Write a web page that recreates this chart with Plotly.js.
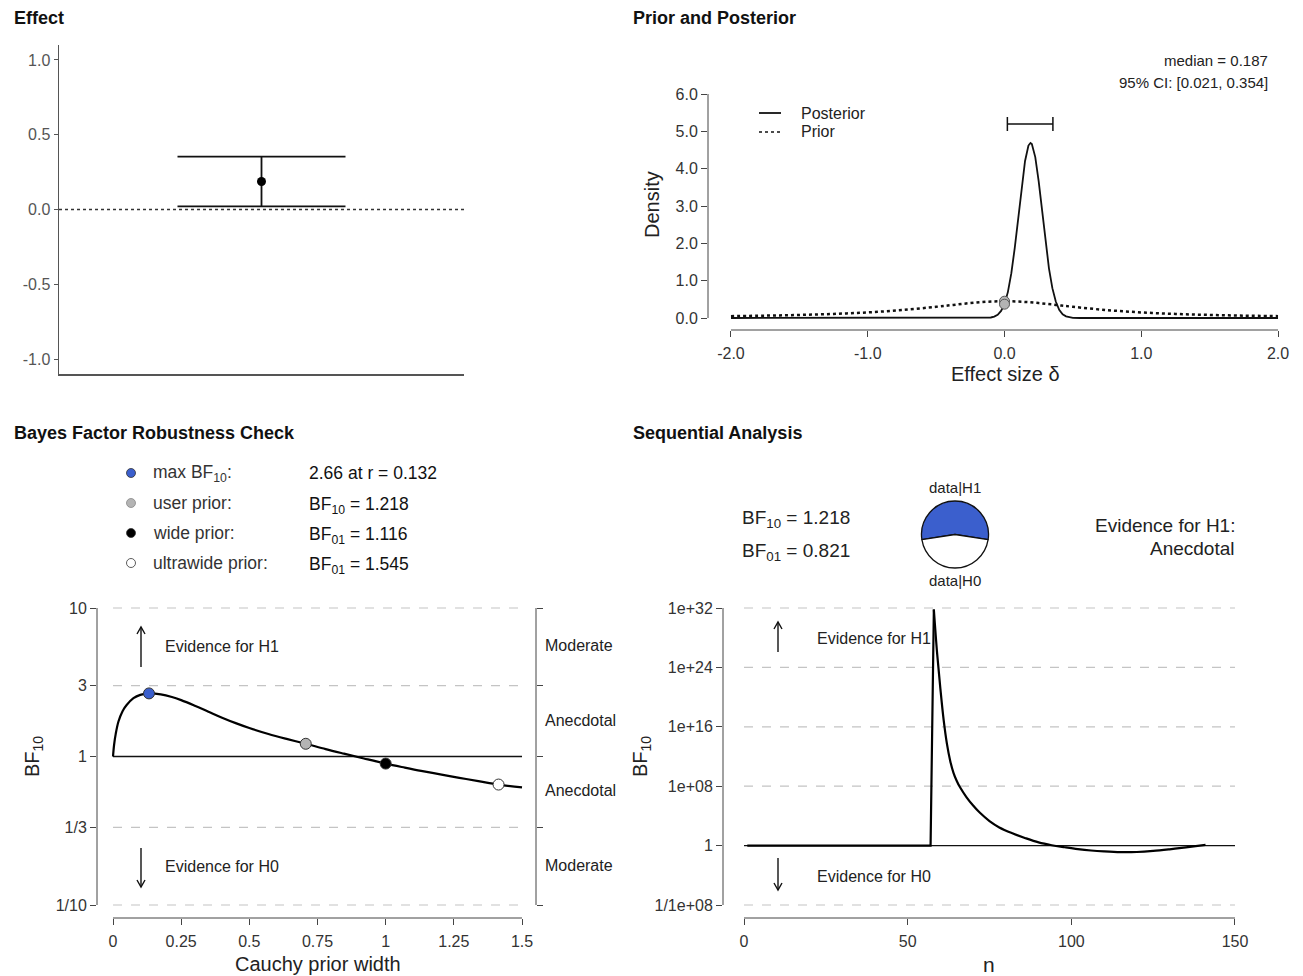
<!DOCTYPE html>
<html><head><meta charset="utf-8">
<script src="https://cdn.plot.ly/plotly-3.0.1.min.js"></script>
<style>html,body{margin:0;padding:0;background:#fff;}#chart{width:1303px;height:976px;}</style>
</head><body><div id="chart"></div>
<script>
// ---------------- data ----------------
const effectMedian = 0.187, effectLower = 0.021, effectUpper = 0.354;

const densityTicks = [0, 1, 2, 3, 4, 5, 6];
const densityTickText = ['0.0', '1.0', '2.0', '3.0', '4.0', '5.0', '6.0'];
const deltaTicks = [-2, -1, 0, 1, 2];
const deltaTickText = ['-2.0', '-1.0', '0.0', '1.0', '2.0'];
const effectTicks = [-1, -0.5, 0, 0.5, 1];
const effectTickText = ['-1.0', '-0.5', '0.0', '0.5', '1.0'];

const priorX = [-2, -1.75, -1.5, -1.25, -1, -0.75, -0.5, -0.375, -0.25, -0.125, 0, 0.125, 0.25, 0.375, 0.5, 0.75, 1, 1.25, 1.5, 1.75, 2];
const priorY = [0.050, 0.063, 0.082, 0.109, 0.150, 0.212, 0.300, 0.351, 0.400, 0.436, 0.450, 0.436, 0.400, 0.351, 0.300, 0.212, 0.150, 0.109, 0.082, 0.063, 0.050];
const postX = [-2, -0.15, -0.1, -0.075, -0.05, -0.025, 0, 0.025, 0.05, 0.075, 0.1, 0.125, 0.15, 0.175, 0.19, 0.2, 0.225, 0.25, 0.275, 0.3, 0.325, 0.35, 0.375, 0.4, 0.425, 0.45, 0.5, 0.55, 2];
const postY = [0, 0, 0.014, 0.036, 0.087, 0.19, 0.37, 0.70, 1.20, 1.88, 2.68, 3.50, 4.20, 4.62, 4.69, 4.66, 4.31, 3.66, 2.85, 2.03, 1.33, 0.80, 0.44, 0.22, 0.10, 0.044, 0.006, 0, 0];
const priorAt0 = 0.45, postAt0 = 0.37;

const rTicks = [0, 0.25, 0.5, 0.75, 1, 1.25, 1.5];
const rTickText = ['0', '0.25', '0.5', '0.75', '1', '1.25', '1.5'];
const bfTicks = [0.1, 1 / 3, 1, 3, 10];
const bfTickText = ['1/10', '1/3', '1', '3', '10'];
const rVals = [0, 0.004, 0.01, 0.02, 0.035, 0.05, 0.075, 0.1, 0.132, 0.175, 0.216, 0.25, 0.3, 0.35, 0.4, 0.45, 0.5, 0.57, 0.64, 0.707, 0.78, 0.847, 0.92, 1.0, 1.07, 1.13, 1.2, 1.27, 1.34, 1.414, 1.5];
const bfRobust = [1, 1.20, 1.42, 1.72, 2.02, 2.22, 2.47, 2.60, 2.66, 2.621, 2.518, 2.398, 2.199, 2.004, 1.827, 1.678, 1.555, 1.418, 1.309, 1.218, 1.121, 1.045, 0.970, 0.896, 0.842, 0.800, 0.758, 0.718, 0.683, 0.647, 0.620];
const priorPointR = [0.132, 0.707, 1.0, 1.414];
const priorPointBF = [2.66, 1.218, 1 / 1.116, 1 / 1.545];
const priorPointColor = ['#3b5fcd', '#b4b4b4', '#000000', '#ffffff'];

const nTicks = [0, 50, 100, 150];
const seqTicks = [1e-8, 1, 1e8, 1e16, 1e24, 1e32];
const seqTickText = ['1/1e+08', '1', '1e+08', '1e+16', '1e+24', '1e+32'];
// flat stretch and jump
const seqNRise = [1, 10, 20, 30, 40, 50, 57, 58];
const seqBFRise = [1, 1, 1, 1, 1, 1, 1, 6.3e31];
// decay after the jump
const seqNDecay = [58, 59, 60, 61, 62, 63, 64, 65, 66, 68, 70, 72, 75, 78, 82, 86, 90, 94, 98, 102, 106, 110, 115, 120, 125, 130, 135, 141];
const seqBFDecay = [6.3e31, 7.9e25, 1.26e21, 7.9e16, 5.0e13, 2.5e11, 6.3e9, 5.0e8, 7.1e7, 3.2e6, 2.5e5, 2.8e4, 2.0e3, 282, 45.7, 10, 2.69, 1.12, 0.60, 0.34, 0.22, 0.166, 0.132, 0.138, 0.19, 0.316, 0.575, 1.218];
const bf10 = 1.218, bf01 = 0.821;

// ---------------- helpers ----------------
const W = 1303, H = 976;
const px = x => x / W;
const py = y => 1 - y / H;
const FONT = 'Liberation Sans, Arial, Helvetica, sans-serif';
const BLUE = '#3b5fcd';

function txt(x, y, text, size, opt) {
  opt = opt || {};
  return Object.assign({
    xref: 'paper', yref: 'paper', x: px(x), y: py(y), text: text, showarrow: false,
    xanchor: 'left', yanchor: 'middle',
    font: {family: FONT, size: size, color: opt.color || '#222'}
  }, opt.extra || {});
}
function arrowShapes(x, yHead, yTail) {
  const dir = yTail > yHead ? 1 : -1;
  return [
    {type: 'line', xref: 'paper', yref: 'paper', x0: px(x), x1: px(x), y0: py(yTail), y1: py(yHead),
      line: {color: '#111', width: 1.4}},
    {type: 'path', xref: 'paper', yref: 'paper',
      path: `M ${px(x - 4)},${py(yHead + dir * 7)} L ${px(x)},${py(yHead)} L ${px(x + 4)},${py(yHead + dir * 7)}`,
      line: {color: '#111', width: 1.4}}
  ];
}

// ---------------- traces ----------------
const traces = [];
// Effect panel
traces.push({x: [0, 1], y: [0, 0], xaxis: 'x', yaxis: 'y', mode: 'lines',
  line: {color: '#333', width: 1.3, dash: 'dot'}, hoverinfo: 'skip'});
traces.push({x: [0.5], y: [effectMedian], xaxis: 'x', yaxis: 'y', mode: 'markers',
  marker: {color: '#000', size: 9},
  error_y: {type: 'data', symmetric: false, array: [effectUpper - effectMedian], arrayminus: [effectMedian - effectLower],
    width: 84, thickness: 1.8, color: '#111'}});

// Prior & posterior
traces.push({x: priorX, y: priorY, xaxis: 'x2', yaxis: 'y2', mode: 'lines',
  line: {color: '#111', width: 2.5, dash: 'dot', shape: 'spline'}, hoverinfo: 'skip'});
traces.push({x: postX, y: postY, xaxis: 'x2', yaxis: 'y2', mode: 'lines',
  line: {color: '#111', width: 1.8}, hoverinfo: 'skip'});
traces.push({x: [0, 0], y: [priorAt0, postAt0], xaxis: 'x2', yaxis: 'y2', mode: 'markers',
  marker: {color: '#b4b4b4', size: 10, line: {color: '#555', width: 1}}});
traces.push({x: [effectMedian], y: [5.2], xaxis: 'x2', yaxis: 'y2', mode: 'markers',
  marker: {opacity: 0, size: 1}, hoverinfo: 'skip',
  error_x: {type: 'data', symmetric: false, array: [effectUpper - effectMedian], arrayminus: [effectMedian - effectLower],
    width: 7, thickness: 1.5, color: '#111'}});

// Robustness
const gx3 = [], gy3 = [];
[10, 3, 1 / 3, 0.1].forEach(v => { gx3.push(0, 1.5, null); gy3.push(v, v, null); });
traces.push({x: gx3, y: gy3, xaxis: 'x3', yaxis: 'y3', mode: 'lines',
  line: {color: '#c4c4c4', width: 1.2, dash: 'dash'}, hoverinfo: 'skip'});
traces.push({x: [0, 1.5], y: [1, 1], xaxis: 'x3', yaxis: 'y3', mode: 'lines',
  line: {color: '#111', width: 1.3}, hoverinfo: 'skip'});
traces.push({x: rVals, y: bfRobust, xaxis: 'x3', yaxis: 'y3', mode: 'lines',
  line: {color: '#000', width: 2.2, shape: 'spline', smoothing: 1}, hoverinfo: 'skip'});
traces.push({x: priorPointR, y: priorPointBF, xaxis: 'x3', yaxis: 'y3', mode: 'markers',
  marker: {color: priorPointColor, size: 11, line: {color: '#333', width: 1}}});
traces.push({x: [0.75], y: [1], xaxis: 'x3', yaxis: 'y5', mode: 'markers',
  marker: {opacity: 0, size: 1}, hoverinfo: 'skip'});

// Sequential
const gx4 = [], gy4 = [];
[1e32, 1e24, 1e16, 1e8, 1e-8].forEach(v => { gx4.push(0, 150, null); gy4.push(v, v, null); });
traces.push({x: gx4, y: gy4, xaxis: 'x4', yaxis: 'y4', mode: 'lines',
  line: {color: '#c4c4c4', width: 1.2, dash: 'dash'}, hoverinfo: 'skip'});
traces.push({x: [0, 150], y: [1, 1], xaxis: 'x4', yaxis: 'y4', mode: 'lines',
  line: {color: '#111', width: 1.3}, hoverinfo: 'skip'});
traces.push({x: seqNRise, y: seqBFRise, xaxis: 'x4', yaxis: 'y4', mode: 'lines',
  line: {color: '#000', width: 2.2}, hoverinfo: 'skip'});
traces.push({x: seqNDecay, y: seqBFDecay, xaxis: 'x4', yaxis: 'y4', mode: 'lines',
  line: {color: '#000', width: 2.2, shape: 'spline', smoothing: 1}, hoverinfo: 'skip'});

// Pie
traces.push({type: 'pie', values: [bf10, 1], labels: ['data|H1', 'data|H0'], sort: false,
  direction: 'clockwise', rotation: -(bf10 / (bf10 + 1)) * 180,
  marker: {colors: [BLUE, '#ffffff'], line: {color: '#111', width: 1.3}},
  textinfo: 'none', hoverinfo: 'skip', showlegend: false,
  domain: {x: [px(921), px(989)], y: [py(568), py(501)]}});

// ---------------- layout ----------------
const base = {showgrid: false, zeroline: false, fixedrange: true, showline: false,
  ticks: 'outside', ticklen: 6, tickwidth: 1, tickcolor: '#444',
  tickfont: {family: FONT, size: 16, color: '#333'}};

const layout = {
  width: W, height: H, autosize: false,
  margin: {l: 0, r: 0, t: 0, b: 0, pad: 0},
  paper_bgcolor: '#fff', plot_bgcolor: 'rgba(0,0,0,0)',
  showlegend: false, font: {family: FONT},
  xaxis: Object.assign({}, base, {domain: [px(59), px(464)], range: [0, 1], anchor: 'y',
    showticklabels: false, ticks: '', showline: true, linecolor: '#555', linewidth: 1.5}),
  yaxis: Object.assign({}, base, {domain: [py(374), py(45)], range: [-1.1, 1.1], anchor: 'x',
    tickvals: effectTicks, ticktext: effectTickText, ticklen: 4, tickcolor: '#555',
    showline: true, linecolor: '#555', linewidth: 1.5,
    tickfont: {family: FONT, size: 16, color: '#555'}}),
  xaxis2: Object.assign({}, base, {domain: [px(708), px(1301)], range: [-2.168, 2.168], anchor: 'y2',
    tickvals: deltaTicks, ticktext: deltaTickText, ticklabelstandoff: 3}),
  yaxis2: Object.assign({}, base, {domain: [py(330), py(88)], range: [-0.3214, 6.161], anchor: 'x2',
    tickvals: densityTicks, ticktext: densityTickText}),
  xaxis3: Object.assign({}, base, {domain: [px(97), px(536)], range: [-0.0587, 1.5513], anchor: 'y3',
    tickvals: rTicks, ticktext: rTickText, ticklabelstandoff: 3}),
  yaxis3: Object.assign({}, base, {domain: [py(918), py(600)], type: 'log', range: [-1.0875, 1.0539], anchor: 'x3',
    tickvals: bfTicks, ticktext: bfTickText}),
  yaxis5: Object.assign({}, base, {domain: [py(918), py(600)], type: 'log', range: [-1.0875, 1.0539], anchor: 'x3',
    overlaying: 'y3', side: 'right', tickvals: bfTicks, showticklabels: false}),
  xaxis4: Object.assign({}, base, {domain: [px(723), px(1240)], range: [-6.416, 151.53], anchor: 'y4',
    tickvals: nTicks, ticktext: nTicks.map(String), ticklabelstandoff: 3}),
  yaxis4: Object.assign({}, base, {domain: [py(918), py(600)], type: 'log', range: [-9.751, 33.077], anchor: 'x4',
    tickvals: seqTicks, ticktext: seqTickText}),
  shapes: [
    // axis lines (R style, spanning ticks only)
    {type: 'line', xref: 'x2 domain', x0: 0, x1: 0, yref: 'y2', y0: 0, y1: 6, line: {color: '#444', width: 1}},
    {type: 'line', xref: 'x2', x0: -2, x1: 2, yref: 'y2 domain', y0: 0, y1: 0, line: {color: '#444', width: 1}},
    {type: 'line', xref: 'x3 domain', x0: 0, x1: 0, yref: 'y3', y0: 0.1, y1: 10, line: {color: '#444', width: 1}},
    {type: 'line', xref: 'x3 domain', x0: 1, x1: 1, yref: 'y3', y0: 0.1, y1: 10, line: {color: '#444', width: 1}},
    {type: 'line', xref: 'x3', x0: 0, x1: 1.5, yref: 'y3 domain', y0: 0, y1: 0, line: {color: '#444', width: 1}},
    {type: 'line', xref: 'x4 domain', x0: 0, x1: 0, yref: 'y4', y0: 1e-8, y1: 1e32, line: {color: '#444', width: 1}},
    {type: 'line', xref: 'x4', x0: 0, x1: 150, yref: 'y4 domain', y0: 0, y1: 0, line: {color: '#444', width: 1}},
    // panel 2 legend keys
    {type: 'line', xref: 'paper', yref: 'paper', x0: px(759), x1: px(781), y0: py(113), y1: py(113), line: {color: '#111', width: 1.8}},
    {type: 'line', xref: 'paper', yref: 'paper', x0: px(759), x1: px(781), y0: py(132), y1: py(132), line: {color: '#111', width: 1.6, dash: 'dot'}},
  ].concat(arrowShapes(141, 627, 667), arrowShapes(141, 887, 848),
           arrowShapes(778, 622, 652), arrowShapes(778, 890, 858)),
  annotations: [
    txt(12, 18, '<b>Effect</b>', 18, {color: '#111'}),
    txt(631, 18, '<b>Prior and Posterior</b>', 18, {color: '#111'}),
    txt(12, 433, '<b>Bayes Factor Robustness Check</b>', 18, {color: '#111'}),
    txt(631, 433, '<b>Sequential Analysis</b>', 18, {color: '#111'}),
    // panel 2
    txt(1270, 60, 'median = 0.187', 15, {extra: {xanchor: 'right'}}),
    txt(1270, 83, '95% CI: [0.021, 0.354]', 15, {extra: {xanchor: 'right'}}),
    txt(799, 113, 'Posterior', 16),
    txt(799, 132, 'Prior', 16),
    txt(652, 205, 'Density', 20, {extra: {xanchor: 'center', textangle: -90}}),
    txt(1005, 374, 'Effect size δ', 20, {extra: {xanchor: 'center'}}),
    // panel 3 legend
    txt(151, 473, 'max BF<sub>10</sub>:', 17.5, {color: '#333'}),
    txt(151, 503, 'user prior:', 17.5, {color: '#333'}),
    txt(151, 533, 'wide prior:', 17.5, {color: '#333'}),
    txt(151, 563, 'ultrawide prior:', 17.5, {color: '#333'}),
    txt(307, 473, '2.66 at r = 0.132', 17.5, {color: '#111'}),
    txt(307, 505, 'BF<sub>10</sub> = 1.218', 17.5, {color: '#111'}),
    txt(307, 535, 'BF<sub>01</sub> = 1.116', 17.5, {color: '#111'}),
    txt(307, 565, 'BF<sub>01</sub> = 1.545', 17.5, {color: '#111'}),
    // panel 3 plot
    txt(163, 646, 'Evidence for H1', 16),
    txt(163, 866, 'Evidence for H0', 16),
    txt(543, 645, 'Moderate', 16),
    txt(543, 720, 'Anecdotal', 16),
    txt(543, 790, 'Anecdotal', 16),
    txt(543, 865, 'Moderate', 16),
    txt(33, 757, 'BF<sub>10</sub>', 20, {extra: {xanchor: 'center', textangle: -90}}),
    txt(318, 964, 'Cauchy prior width', 20, {extra: {xanchor: 'center'}}),
    // panel 4 header
    txt(740, 519, 'BF<sub>10</sub> = 1.218', 19),
    txt(740, 552, 'BF<sub>01</sub> = 0.821', 19),
    txt(955, 487, 'data|H1', 15, {extra: {xanchor: 'center'}}),
    txt(955, 580, 'data|H0', 15, {extra: {xanchor: 'center'}}),
    txt(1237, 525, 'Evidence for H1:', 19, {extra: {xanchor: 'right'}}),
    txt(1237, 548, 'Anecdotal', 19, {extra: {xanchor: 'right'}}),
    // panel 4 plot
    txt(815, 638, 'Evidence for H1', 16),
    txt(815, 876, 'Evidence for H0', 16),
    txt(641, 757, 'BF<sub>10</sub>', 20, {extra: {xanchor: 'center', textangle: -90}}),
    txt(989, 964, 'n', 21, {extra: {xanchor: 'center'}}),
  ]
};

// legend dots (panel 3)
priorPointColor.forEach((c, i) => {
  const cy = 473 + i * 30, r = 4.5;
  layout.shapes.push({type: 'circle', xref: 'paper', yref: 'paper',
    x0: px(131 - r), x1: px(131 + r), y0: py(cy + r), y1: py(cy - r),
    fillcolor: c, line: {color: i === 1 ? '#888' : '#333', width: 0.8}});
});

Plotly.newPlot('chart', traces, layout, {displayModeBar: false, staticPlot: true});
</script>
</body></html>
